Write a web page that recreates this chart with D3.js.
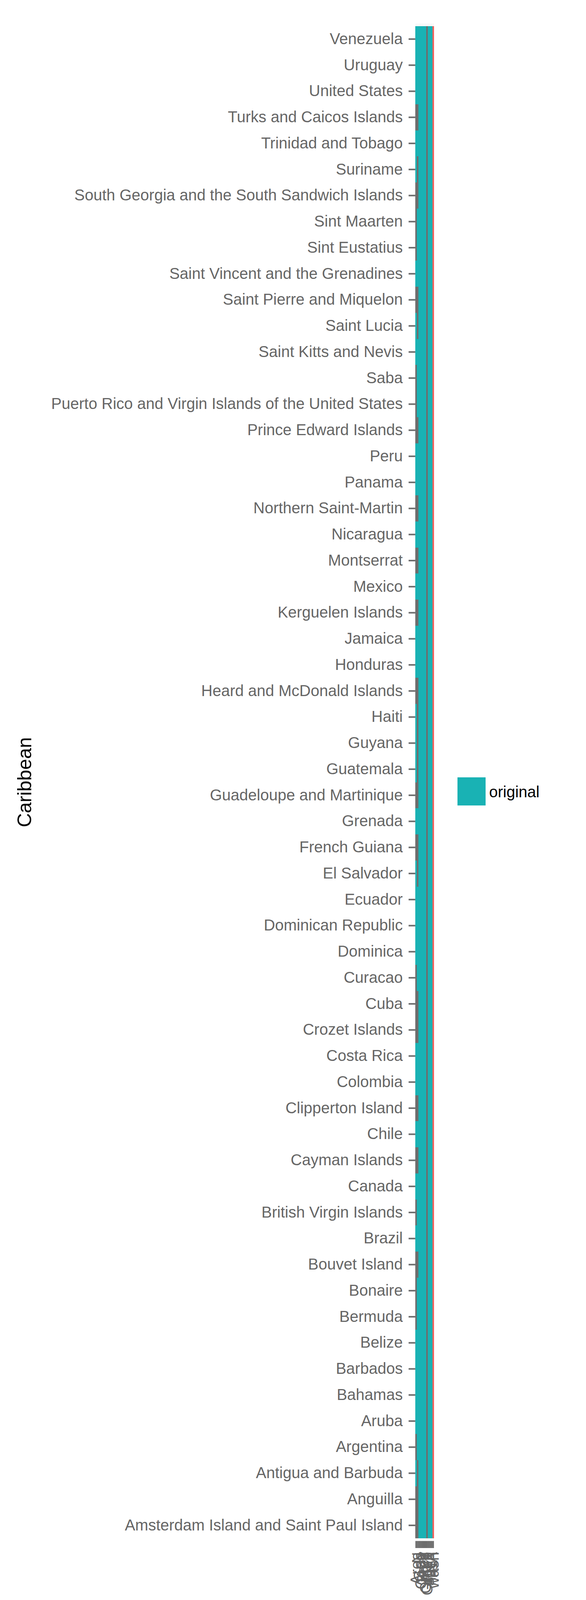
<!DOCTYPE html>
<html>
<head>
<meta charset="utf-8">
<script src="https://cdn.jsdelivr.net/npm/d3@7"></script>
<style>
  body { margin: 0; background: #fff; }
  svg text { font-family: "Liberation Sans", Arial, Helvetica, sans-serif; }
</style>
</head>
<body>
<svg id="chart" width="1500" height="4500"></svg>
<script>
// countries in factor order (ggplot puts the first level at the bottom)
const countries = [
  'Amsterdam Island and Saint Paul Island', 'Anguilla', 'Antigua and Barbuda', 'Argentina',
  'Aruba', 'Bahamas', 'Barbados', 'Belize', 'Bermuda', 'Bonaire', 'Bouvet Island', 'Brazil',
  'British Virgin Islands', 'Canada', 'Cayman Islands', 'Chile', 'Clipperton Island', 'Colombia',
  'Costa Rica', 'Crozet Islands', 'Cuba', 'Curacao', 'Dominica', 'Dominican Republic', 'Ecuador',
  'El Salvador', 'French Guiana', 'Grenada', 'Guadeloupe and Martinique', 'Guatemala', 'Guyana',
  'Haiti', 'Heard and McDonald Islands', 'Honduras', 'Jamaica', 'Kerguelen Islands', 'Mexico',
  'Montserrat', 'Nicaragua', 'Northern Saint-Martin', 'Panama', 'Peru', 'Prince Edward Islands',
  'Puerto Rico and Virgin Islands of the United States', 'Saba', 'Saint Kitts and Nevis',
  'Saint Lucia', 'Saint Pierre and Miquelon', 'Saint Vincent and the Grenadines', 'Sint Eustatius',
  'Sint Maarten', 'South Georgia and the South Sandwich Islands', 'Suriname', 'Trinidad and Tobago',
  'Turks and Caicos Islands', 'United States', 'Uruguay', 'Venezuela'
]

// variables along x (the labels overlap in the original, so these are guesses)
const variables = [
  'Area', 'N', 'Gen', 'Code', 'Year', 'pres',
  'Origin', 'Group', 'sp_2', 'hash', 'NA', 'wash'
]

// cells without value in the first two variables
const missingVar1 = [
  'Turks and Caicos Islands', 'South Georgia and the South Sandwich Islands', 'Sint Maarten',
  'Sint Eustatius', 'Saint Pierre and Miquelon', 'Saba',
  'Puerto Rico and Virgin Islands of the United States', 'Prince Edward Islands',
  'Northern Saint-Martin', 'Montserrat', 'Kerguelen Islands', 'Heard and McDonald Islands',
  'Guadeloupe and Martinique', 'French Guiana', 'Curacao', 'Cuba', 'Crozet Islands',
  'Clipperton Island', 'Cayman Islands', 'British Virgin Islands', 'Bouvet Island', 'Bonaire',
  'Bermuda', 'Argentina', 'Anguilla', 'Amsterdam Island and Saint Paul Island'
]
const missingVar2 = [
  'Turks and Caicos Islands', 'Suriname', 'South Georgia and the South Sandwich Islands',
  'Saint Pierre and Miquelon', 'Saint Lucia', 'Prince Edward Islands', 'Northern Saint-Martin',
  'Montserrat', 'Kerguelen Islands', 'Heard and McDonald Islands', 'Haiti', 'Guyana', 'Guatemala',
  'Guadeloupe and Martinique', 'French Guiana', 'El Salvador', 'Cuba', 'Crozet Islands',
  'Clipperton Island', 'Cayman Islands', 'Bouvet Island', 'Antigua and Barbuda', 'Anguilla',
  'Amsterdam Island and Saint Paul Island'
]
// variable that is empty everywhere, and the one with the other fill level
const emptyVariable = 'Group'
const otherVariable = 'wash'

const legendLevels = ['original']
const yTitle = 'Caribbean'

const fillColor = { original: '#19b2b4', other: '#f1625d' }
const naColor = '#6d6d6d'

function cellValue(country, variable) {
  if (variable === emptyVariable) return null
  if (variable === variables[0] && missingVar1.includes(country)) return null
  if (variable === variables[1] && missingVar2.includes(country)) return null
  if (variable === otherVariable) return 'other'
  return 'original'
}

const cells = []
countries.forEach(c => variables.forEach(v => cells.push({ country: c, variable: v, value: cellValue(c, v) })))

const svg = d3.select('#chart')
const panel = { left: 1062.9, right: 1111.1, top: 60, bottom: 3945 }
const expandX = 0.4
const expandY = 6.7

const x = d3.scaleBand()
  .domain(variables)
  .range([panel.left + expandX, panel.right - expandX])

const y = d3.scaleBand()
  .domain(countries)
  .range([panel.bottom - expandY, panel.top + expandY])

// faint grid peeking out of the expansion area
svg.append('g')
  .selectAll('line')
  .data(variables)
  .enter()
  .append('line')
  .attr('x1', d => x(d) + x.bandwidth() / 2)
  .attr('x2', d => x(d) + x.bandwidth() / 2)
  .attr('y1', panel.top)
  .attr('y2', panel.bottom)
  .attr('stroke', '#ebebeb')
  .attr('stroke-width', 1.2)

svg.append('g')
  .selectAll('rect')
  .data(cells)
  .enter()
  .append('rect')
  .attr('x', d => x(d.variable))
  .attr('y', d => y(d.country))
  .attr('width', x.bandwidth())
  .attr('height', y.bandwidth())
  .attr('fill', d => d.value === null ? naColor : fillColor[d.value])
  .attr('shape-rendering', 'crispEdges')

// y axis
const yAxis = svg.append('g')
  .attr('transform', `translate(${panel.left}, 0)`)
  .call(d3.axisLeft(y).tickSize(17).tickPadding(15))
yAxis.select('.domain').remove()
yAxis.selectAll('.tick line').attr('stroke', '#6d6d6d').attr('stroke-width', 4)
yAxis.selectAll('.tick text')
  .attr('fill', '#666')
  .attr('font-size', 40)
  .attr('font-family', '"Liberation Sans", Arial, sans-serif')

// x axis
const xAxis = svg.append('g')
  .attr('transform', `translate(0, ${panel.bottom})`)
  .call(d3.axisBottom(x).tickSize(18))
xAxis.select('.domain').remove()
xAxis.selectAll('.tick line').attr('stroke', '#6d6d6d').attr('stroke-width', 4)
xAxis.selectAll('.tick text')
  .attr('fill', '#666')
  .attr('font-size', 40)
  .attr('font-family', '"Liberation Sans", Arial, sans-serif')
  .attr('transform', 'rotate(-90)')
  .attr('text-anchor', 'end')
  .attr('x', -28)
  .attr('y', 0)
  .attr('dy', '0.35em')

// y title
svg.append('text')
  .attr('transform', `translate(80, ${(panel.top + panel.bottom) / 2}) rotate(-90)`)
  .attr('text-anchor', 'middle')
  .attr('font-size', 50)
  .attr('fill', '#000')
  .text(yTitle)

// legend
const legend = svg.append('g')
  .attr('transform', 'translate(1171, 1990)')
legend.selectAll('rect')
  .data(legendLevels)
  .enter()
  .append('rect')
  .attr('x', 0)
  .attr('y', (d, i) => i * 72)
  .attr('width', 72)
  .attr('height', 72)
  .attr('fill', d => fillColor[d])
legend.selectAll('text')
  .data(legendLevels)
  .enter()
  .append('text')
  .attr('x', 81)
  .attr('y', (d, i) => i * 72 + 51)
  .attr('font-size', 40)
  .attr('fill', '#000')
  .text(d => d)
</script>
</body>
</html>
